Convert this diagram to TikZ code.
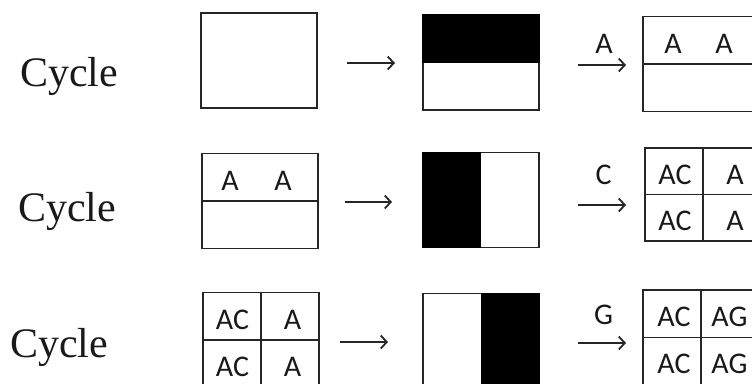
\documentclass[tikz,border=0pt]{standalone}
\usepackage{fontspec}
\setmainfont{Liberation Serif}
\newfontfamily\boxfont{Carlito}
\usetikzlibrary{arrows.meta}
\tikzset{
  cell/.style={draw=black!85, line width=1.5pt, rectangle, minimum width=116pt, minimum height=95pt, inner sep=0pt},
  lbl/.style={font=\boxfont\fontsize{30}{30}\selectfont, inner sep=0pt, text=black!90},
  cyc/.style={font=\fontsize{42}{42}\selectfont, inner sep=0pt, anchor=base, text=black!90},
  arr/.style={line width=1.8pt, black!85, -{Straight Barb[length=6pt,width=13pt,line width=1.8pt]}},
  divider/.style={draw=black!85, line width=1.5pt}
}
\begin{document}
\begin{tikzpicture}[x=1pt,y=-1pt]
\useasboundingbox (0,0) rectangle (752,383);
\clip (0,0) rectangle (752,383);
% ---------- Row 1 ----------
\node[cyc] (c1) at (69,86) {Cycle};
\node[cell] (b11) at (259,60.5) {};
\node[cell] (b12) at (481,62.5) {};
\fill[black] (b12.north west) rectangle (b12.east);
\node[cell] (b13) at (701,64) {};
\draw[divider] (b13.west) -- (b13.east);
\node[lbl] (t131) at (673,44) {A};
\node[lbl] (t132) at (724,44) {A};
\coordinate (a11s) at (347,63);
\coordinate (a11e) at (395,63);
\draw[arr] (a11s) -- (a11e);
\coordinate (a12s) at (578,65);
\coordinate (a12e) at (626,65);
\draw[arr] (a12s) -- (a12e);
\node[lbl] (l12) at (604,44) {A};
% ---------- Row 2 ----------
\node[cyc] (c2) at (67,221) {Cycle};
\node[cell] (b21) at (260,201) {};
\draw[divider] (b21.west) -- (b21.east);
\node[lbl] (t211) at (230,181) {A};
\node[lbl] (t212) at (283,181) {A};
\node[cell] (b22) at (481,200) {};
\fill[black] (b22.north west) rectangle (b22.south);
\node[cell, minimum height=93pt] (b23) at (703,194.5) {};
\draw[divider] (b23.west) -- (b23.east);
\draw[divider] (b23.north) -- (b23.south);
\node[lbl] (t231) at (675,175) {AC};
\node[lbl] (t232) at (735,175) {A};
\node[lbl] (t233) at (675,221) {AC};
\node[lbl] (t234) at (735,221) {A};
\coordinate (a21s) at (345,202);
\coordinate (a21e) at (392,202);
\draw[arr] (a21s) -- (a21e);
\coordinate (a22s) at (578,205);
\coordinate (a22e) at (626,205);
\draw[arr] (a22s) -- (a22e);
\node[lbl] (l22) at (603.5,175) {C};
% ---------- Row 3 ----------
\node[cyc] (c3) at (59,357) {Cycle};
\node[cell] (b31) at (261,340) {};
\draw[divider] (b31.west) -- (b31.east);
\draw[divider] (b31.north) -- (b31.south);
\node[lbl] (t311) at (232.5,320) {AC};
\node[lbl] (t312) at (292.5,320) {A};
\node[lbl] (t313) at (232.5,367) {AC};
\node[lbl] (t314) at (292.5,367) {A};
\node[cell] (b32) at (481,341) {};
\fill[black] (b32.north) rectangle (b32.south east);
\node[cell] (b33) at (701,337.5) {};
\draw[divider] (b33.west) -- (b33.east);
\draw[divider] (b33.north) -- (b33.south);
\node[lbl] (t331) at (674,317) {AC};
\node[lbl] (t332) at (729.5,317) {AG};
\node[lbl] (t333) at (674,364) {AC};
\node[lbl] (t334) at (729.5,364) {AG};
\coordinate (a31s) at (340,342);
\coordinate (a31e) at (388,342);
\draw[arr] (a31s) -- (a31e);
\coordinate (a32s) at (578,343);
\coordinate (a32e) at (626,343);
\draw[arr] (a32s) -- (a32e);
\node[lbl] (l32) at (603.5,315) {G};
\end{tikzpicture}
\end{document}
